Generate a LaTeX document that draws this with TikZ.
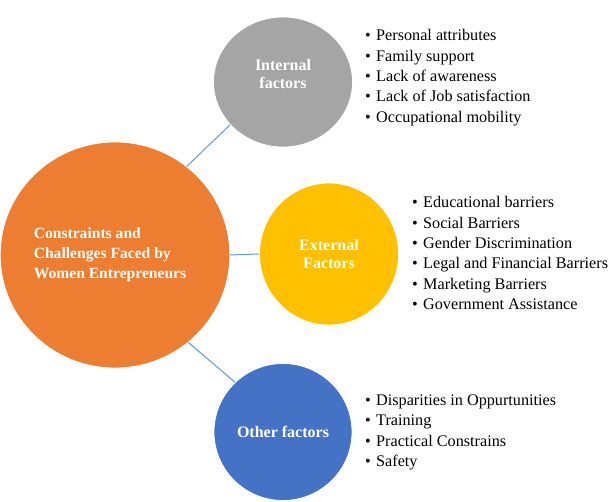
\documentclass[tikz,border=0pt]{standalone}
\usepackage{fontspec}
\setmainfont{Liberation Serif}
\usetikzlibrary{shapes.geometric}
\definecolor{orng}{HTML}{ED7D31}
\definecolor{grey}{HTML}{A5A5A5}
\definecolor{gold}{HTML}{FFC000}
\definecolor{blu}{HTML}{4472C4}
\definecolor{lnk}{HTML}{5B9BD5}
\newcommand{\itm}[1]{\makebox[11pt][l]{\textbullet}#1}

\begin{document}
\begin{tikzpicture}[x=1pt,y=-1pt]
    \tikzstyle{blob}=[ellipse, draw=white, line width=0.8pt, inner sep=0pt, text=white, align=center, font=\fontsize{16}{18.3}\selectfont\bfseries]
    \tikzstyle{items}=[anchor=north west, inner sep=0pt, align=left, font=\fontsize{16.2}{20.3}\selectfont]
    \tikzstyle{link}=[draw=lnk, line width=1pt]
    \useasboundingbox (0,0) rectangle (612,502);
    \node[blob, fill=orng, minimum width=215pt, minimum height=226pt, font=\fontsize{15.6}{20}\selectfont\bfseries] (cw) at (115,255) {\begin{tabular}{@{}l@{}}Constraints and\\Challenges Faced by\\Women Entrepreneurs\end{tabular}\hspace{10pt}};
    \node[blob, fill=grey, minimum width=139pt, minimum height=130pt] (in) at (283,82) {\raisebox{6pt}[\height][\depth]{\begin{tabular}{@{}c@{}}Internal\\factors\end{tabular}}};
    \node[blob, fill=gold, minimum width=139pt, minimum height=142pt] (ex) at (329,254) {External\\Factors};
    \node[blob, fill=blu, minimum width=138pt, minimum height=137pt] (ot) at (283,432) {Other factors};
    \draw[link] (cw.51)--(in.219);
    \draw[link] (cw.east)--(ex.west);
    \draw[link] (cw.-50)--(ot.134);

    \node[items] (inl) at (365,29.5) {\itm{Personal attributes}\\\itm{Family support}\\\itm{Lack of awareness}\\\itm{Lack of Job satisfaction}\\\itm{Occupational mobility}};
    \node[items] (exl) at (412,196.5) {\itm{Educational barriers}\\\itm{Social Barriers}\\\itm{Gender Discrimination}\\\itm{Legal and Financial Barriers}\\\itm{Marketing Barriers}\\\itm{Government Assistance}};
    \node[items] (otl) at (365,394.5) {\itm{Disparities in Oppurtunities}\\\itm{Training}\\\itm{Practical Constrains}\\\itm{Safety}};
\end{tikzpicture}
\end{document}
